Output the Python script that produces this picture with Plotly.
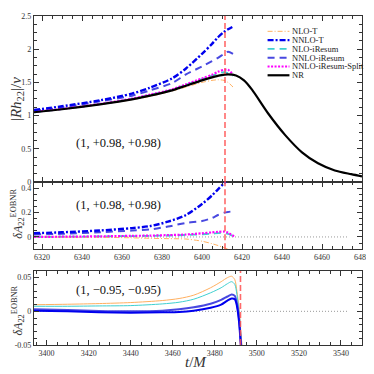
import plotly.graph_objects as go

# ---------------- data ----------------
series_names = ["NLO-T", "NNLO-T", "NLO-iResum", "NNLO-iResum", "NNLO-iResum-Split", "NR"]
series_colors = ["#ffb060", "#0000ee", "#40d0d0", "#4848e0", "#ff00ff", "#000000"]
series_dash = ["5px,2px,1px,2px", "6px,2px,2px,2px", "7px,5px", "7px,5px", "2px,1.5px", "solid"]
series_width = [1.0, 2.4, 1.8, 2.0, 2.2, 2.2]

# top panel: |R h22| / nu, case (1,+0.98,+0.98)
t_nr = [6316, 6330, 6349, 6365, 6374, 6385, 6392, 6400, 6405, 6409, 6413, 6417, 6421, 6425, 6433, 6441.6, 6450, 6458, 6466.4, 6474.6, 6480]
a_nr = [1.05, 1.095, 1.17, 1.245, 1.30, 1.38, 1.45, 1.53, 1.575, 1.605, 1.62, 1.605, 1.53, 1.39, 1.035, 0.706, 0.447, 0.282, 0.174, 0.118, 0.085]

t_eob = [6316, 6330, 6349, 6365, 6374, 6385, 6392, 6400, 6405, 6408, 6411, 6413, 6415.5]
a_nlo_t = [1.05, 1.095, 1.168, 1.238, 1.29, 1.37, 1.43, 1.50, 1.53, 1.54, 1.53, 1.50, 1.43]
a_nnlo_t = [1.085, 1.14, 1.23, 1.33, 1.42, 1.56, 1.71, 1.93, 2.08, 2.18, 2.26, 2.30, 2.34]
a_nlo_ir = [1.05, 1.098, 1.173, 1.25, 1.31, 1.39, 1.465, 1.55, 1.60, 1.635, 1.655, 1.64, 1.60]
a_nnlo_ir = [1.07, 1.12, 1.215, 1.30, 1.38, 1.49, 1.62, 1.74, 1.82, 1.87, 1.93, 1.96, 1.93]
a_split = [1.055, 1.10, 1.175, 1.255, 1.315, 1.395, 1.47, 1.56, 1.615, 1.66, 1.69, 1.69, 1.62]

# middle panel: delta A_22 (EOB-NR), case (1,+0.98,+0.98)
t_d = [6316, 6330, 6349, 6365, 6374, 6383, 6392, 6400, 6405, 6408, 6411, 6413, 6416]
d_nlo_t = [0.0, -0.001, -0.003, -0.007, -0.011, -0.014, -0.017, -0.035, -0.055, -0.07, -0.088, -0.10, -0.125]
d_nnlo_t = [0.031, 0.038, 0.053, 0.072, 0.089, 0.125, 0.18, 0.27, 0.34, 0.39, 0.44, 0.47, 0.51]
d_nlo_ir = [0.0, 0.002, 0.004, 0.007, 0.009, 0.012, 0.016, 0.022, 0.027, 0.031, 0.033, 0.025, 0.004]
d_nnlo_ir = [0.02, 0.026, 0.039, 0.052, 0.061, 0.085, 0.115, 0.13, 0.155, 0.18, 0.198, 0.205, 0.21]
d_split = [0.0, 0.002, 0.005, 0.009, 0.011, 0.015, 0.02, 0.03, 0.037, 0.042, 0.044, 0.034, 0.005]

# bottom panel: delta A_22, case (1,-0.95,-0.95)
t_b = [3394, 3410, 3425, 3440, 3455, 3463, 3470, 3478, 3483, 3486, 3488, 3489.5, 3490.5, 3491.5, 3492.5, 3493.5]
b_nlo_t = [0.0098, 0.0105, 0.0115, 0.013, 0.016, 0.019, 0.024, 0.035, 0.044, 0.050, 0.052, 0.047, 0.030, 0.005, -0.035, -0.07]
b_nlo_ir = [0.0075, 0.0075, 0.008, 0.0085, 0.011, 0.0135, 0.018, 0.0275, 0.035, 0.041, 0.044, 0.040, 0.025, 0.0, -0.04, -0.075]
b_nnlo_ir = [0.003, 0.002, 0.0005, 0.0, 0.001, 0.003, 0.006, 0.0113, 0.017, 0.022, 0.025, 0.023, 0.012, -0.01, -0.05, -0.08]
b_nnlo_t = [0.001, 0.0, -0.0015, -0.002, -0.0015, -0.001, 0.001, 0.0054, 0.010, 0.016, 0.019, 0.018, 0.008, -0.015, -0.055, -0.085]

t_merger_top = 6411.5
t_merger_bot = 3492.2
zero_end_top = 6473
zero_end_bot = 3543

case_top = "(1, +0.98, +0.98)"
case_bot = "(1, −0.95, −0.95)"

# ---------------- figure ----------------
FONT = "Liberation Serif"
fig = go.Figure()


def add(x, y, idx, xa, ya, dash=None, width=None):
    fig.add_trace(go.Scatter(
        x=x, y=y, mode="lines", xaxis=xa, yaxis=ya, showlegend=False,
        line=dict(color=series_colors[idx], dash=dash if dash else series_dash[idx],
                  width=width if width else series_width[idx], shape="spline", smoothing=0.8),
        hoverinfo="skip"))


# top panel
add(t_eob, a_nlo_ir, 2, "x", "y")
add(t_eob, a_nnlo_ir, 3, "x", "y")
add(t_eob, a_split, 4, "x", "y")
add(t_eob, a_nlo_t, 0, "x", "y")
add(t_eob, a_nnlo_t, 1, "x", "y")
add(t_nr, a_nr, 5, "x", "y")

# middle panel
add(t_d, d_nlo_ir, 2, "x2", "y2")
add(t_d, d_nnlo_ir, 3, "x2", "y2")
add(t_d, d_nlo_t, 0, "x2", "y2")
add(t_d, d_split, 4, "x2", "y2")
add(t_d, d_nnlo_t, 1, "x2", "y2")

# bottom panel
add(t_b, b_nlo_t, 0, "x3", "y3", dash="solid", width=1.0)
add(t_b, b_nlo_ir, 2, "x3", "y3", dash="solid", width=1.0)
add(t_b, b_nnlo_ir, 3, "x3", "y3", dash="solid", width=2.0)
add(t_b, b_nnlo_t, 1, "x3", "y3", dash="solid", width=2.0)

shapes = []
# zero reference lines
shapes.append(dict(type="line", xref="x2", yref="y2", x0=6316, x1=zero_end_top, y0=0, y1=0,
                   line=dict(color="#999999", width=1, dash="1px,2px"), layer="below"))
shapes.append(dict(type="line", xref="x3", yref="y3", x0=3394, x1=zero_end_bot, y0=0, y1=0,
                   line=dict(color="#999999", width=1, dash="1px,2px"), layer="below"))
# merger lines
red = "rgba(255,80,80,0.85)"
for xr, yr, xv in [("x", "y domain", t_merger_top), ("x2", "y2 domain", t_merger_top), ("x3", "y3 domain", t_merger_bot)]:
    shapes.append(dict(type="line", xref=xr, yref=yr, x0=xv, x1=xv, y0=0, y1=1,
                       line=dict(color=red, width=1.6, dash="6px,3px")))

# page is offset by the 8px body margin; work in page pixels
OFF = 8
W, H = 366, 366
L, R, T, B = 26, 10, 4, 29
PW, PH = W - L - R, H - T - B


def px(xp):
    return (xp - OFF - L) / PW


def py(yp):
    return (H - B - (yp - OFF)) / PH


def dom(y_top, y_bot):
    return [py(y_bot), py(y_top)]


def label(xp, yp, text, size, angle=0, color="#333"):
    return dict(xref="paper", yref="paper", x=px(xp), y=py(yp), text=text, showarrow=False,
                xanchor="center", yanchor="middle", textangle=angle,
                font=dict(family=FONT, size=size, color=color))


annotations = []
row0, drow = 27.5, 8.9
for i, name in enumerate(series_names):
    yy = py(row0 + i * drow)
    shapes.append(dict(type="line", xref="paper", yref="paper", x0=px(269), x1=px(291), y0=yy, y1=yy,
                       line=dict(color=series_colors[i], width=series_width[i], dash=series_dash[i])))
    annotations.append(dict(xref="paper", yref="paper", x=px(292), y=yy, text=name, showarrow=False,
                            xanchor="left", yanchor="middle", font=dict(family=FONT, size=8.5, color="#222")))

# case labels
annotations.append(label(119, 141, case_top, 12.5, color="#111"))
annotations.append(label(119, 203, case_top, 12.5, color="#111"))
annotations.append(label(119, 289, case_bot, 12.5, color="#111"))

# axis titles
annotations.append(label(17, 96, "|<i>Rh</i><sub>22</sub>|/<i>ν</i>", 15, angle=-90))
annotations.append(label(18, 212, "<i>δA</i><sub>22</sub><sup>EOBNR</sup>", 12, angle=-90))
annotations.append(label(18, 310, "<i>δA</i><sub>22</sub><sup>EOBNR</sup>", 12, angle=-90))
annotations.append(label(197, 362, "<i>t</i>/<i>M</i>", 15))

axis_common = dict(showline=True, linecolor="#333", linewidth=1.2, mirror="allticks", ticks="inside",
                   ticklen=5, tickwidth=1, tickcolor="#333", showgrid=False, zeroline=False,
                   ticklabeloverflow="allow",
                   tickfont=dict(family=FONT, size=8, color="#333"))

fig.update_layout(
    width=W, height=H, margin=dict(l=L, r=R, t=T, b=B),
    paper_bgcolor="white", plot_bgcolor="white", showlegend=False,
    shapes=shapes, annotations=annotations,
    xaxis=dict(axis_common, domain=[0, 1], anchor="y", range=[6316, 6480], dtick=20, tick0=6320,
               showticklabels=False, minor=dict(ticks="inside", ticklen=3, dtick=5, tickcolor="#333")),
    yaxis=dict(axis_common, domain=dom(T + OFF, 180), anchor="x", range=[0, 2.5], dtick=0.5,
               minor=dict(ticks="inside", ticklen=3, dtick=0.125, tickcolor="#333")),
    xaxis2=dict(axis_common, domain=[0, 1], anchor="y2", matches="x", range=[6316, 6480], dtick=20, tick0=6320,
                minor=dict(ticks="inside", ticklen=3, dtick=5, tickcolor="#333")),
    yaxis2=dict(axis_common, domain=dom(180, 248), anchor="x2", range=[-0.1, 0.45],
                tickvals=[0, 0.2, 0.4], ticktext=["0", "0.2", "0.4"],
                minor=dict(ticks="inside", ticklen=3, dtick=0.05, tickcolor="#333")),
    xaxis3=dict(axis_common, domain=[0, 1], anchor="y3", range=[3394, 3550], dtick=20, tick0=3400,
                minor=dict(ticks="inside", ticklen=3, dtick=5, tickcolor="#333")),
    yaxis3=dict(axis_common, domain=dom(270, 345), anchor="x3", range=[-0.05, 0.06],
                tickvals=[-0.05, 0, 0.05], ticktext=["-0.05", "0", "0.05"],
                minor=dict(ticks="inside", ticklen=3, dtick=0.01, tickcolor="#333")),
)

fig.write_html("out.html")
